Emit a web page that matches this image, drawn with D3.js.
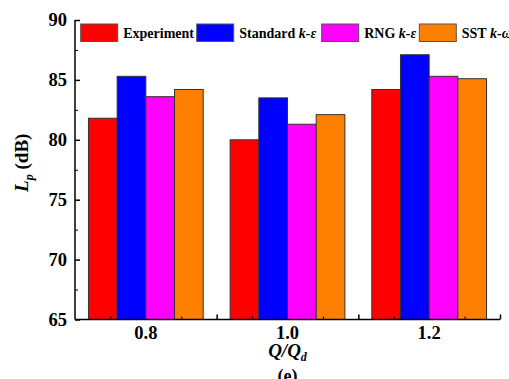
<!DOCTYPE html>
<html lang="en">
<head>
<meta charset="utf-8">
<title>Lp bar chart</title>
<script src="https://cdn.jsdelivr.net/npm/d3@7"></script>
<style>
  body { margin: 0; background: #fff; }
  svg text { font-family: "Liberation Serif", "Times New Roman", serif; font-weight: bold; }
</style>
</head>
<body>
<script>
// data
var categories = ["0.8", "1.0", "1.2"];
var seriesNames = ["Experiment", "Standard", "RNG", "SST"];
var experiment = [81.8, 80.0, 84.2];
var standardKE = [85.3, 83.5, 87.1];
var rngKE = [83.6, 81.3, 85.3];
var sstKW = [84.2, 82.1, 85.1];
var yTicks = [65, 70, 75, 80, 85, 90];

var colors = ["#ff0000", "#0000ff", "#ff00ff", "#ff8000"];
var allSeries = [experiment, standardKE, rngKE, sstKW];

var W = 509, H = 379;
var mLeft = 75, mRight = 500, mTop = 20, mBottom = 319.5;

var svg = d3.select("body").append("svg")
    .attr("width", W)
    .attr("height", H);

var x0 = d3.scaleBand()
    .domain(categories)
    .range([mLeft, mRight])
    .paddingInner(0.19)
    .paddingOuter(0.095);

var x1 = d3.scaleBand()
    .domain(seriesNames)
    .range([0, x0.bandwidth()]);

var y = d3.scaleLinear()
    .domain([65, 90])
    .range([mBottom, mTop]);

// bars
var groups = svg.selectAll("g.grp")
    .data(categories)
    .enter().append("g")
    .attr("class", "grp")
    .attr("transform", function(d) { return "translate(" + x0(d) + ",0)"; });

groups.selectAll("rect")
    .data(function(d, i) {
        return seriesNames.map(function(s, j) { return { s: s, v: allSeries[j][i], c: colors[j] }; });
    })
    .enter().append("rect")
    .attr("x", function(d) { return x1(d.s); })
    .attr("y", function(d) { return y(d.v); })
    .attr("width", x1.bandwidth())
    .attr("height", function(d) { return mBottom - y(d.v); })
    .attr("fill", function(d) { return d.c; })
    .attr("stroke", "#333")
    .attr("stroke-width", 1);

// y axis: major + minor inward ticks
var yAxis = svg.append("g")
    .attr("transform", "translate(" + mLeft + ",0)")
    .call(d3.axisLeft(y).tickValues(yTicks).tickSize(-5).tickPadding(8).tickFormat(d3.format("d")));
svg.append("g")
    .attr("transform", "translate(" + mLeft + ",0)")
    .call(d3.axisLeft(y).tickValues([67.5, 72.5, 77.5, 82.5, 87.5]).tickSize(-3).tickFormat(""))
    .select(".domain").remove();
yAxis.select(".domain").attr("d", "M0," + mTop + "V" + mBottom).attr("stroke-width", 1.5);
yAxis.selectAll("text").attr("font-size", "18.5px").attr("fill", "#000");
yAxis.selectAll("line").attr("stroke-width", 1.5);

// x axis: labels from band scale, ticks at quarter-group positions
var xt = d3.scaleLinear().domain([0, 3]).range([mLeft, mRight]);
var xAxis = svg.append("g")
    .attr("transform", "translate(0," + mBottom + ")")
    .call(d3.axisBottom(x0).tickSize(0).tickPadding(6));
xAxis.select(".domain").attr("d", "M" + mLeft + ",0H" + mRight).attr("stroke-width", 1.5);
xAxis.selectAll("text").attr("font-size", "18.5px").attr("fill", "#000");
svg.append("g")
    .attr("transform", "translate(0," + mBottom + ")")
    .call(d3.axisBottom(xt).tickValues([1, 2, 3]).tickSize(-5).tickFormat(""))
    .call(function(g) { g.select(".domain").remove(); g.selectAll("line").attr("stroke-width", 1.5); });
svg.append("g")
    .attr("transform", "translate(0," + mBottom + ")")
    .call(d3.axisBottom(xt).tickValues([0.25, 0.75, 1.25, 1.75, 2.25, 2.75]).tickSize(-3).tickFormat(""))
    .select(".domain").remove();

// axis titles
var yt = svg.append("text")
    .attr("transform", "translate(28," + ((mTop + mBottom) / 2 - 7) + ") rotate(-90)")
    .attr("text-anchor", "middle")
    .attr("font-size", "19px");
yt.append("tspan").attr("font-style", "italic").text("L");
yt.append("tspan").attr("font-style", "italic").attr("font-size", "12px").attr("dy", 5).text("p");
yt.append("tspan").attr("dy", -5).text(" (dB)");

var xtl = svg.append("text")
    .attr("x", (mLeft + mRight) / 2)
    .attr("y", 357)
    .attr("text-anchor", "middle")
    .attr("font-size", "19px");
xtl.append("tspan").attr("font-style", "italic").text("Q/Q");
xtl.append("tspan").attr("font-style", "italic").attr("font-size", "12px").attr("dy", 4).text("d");

svg.append("text")
    .attr("x", (mLeft + mRight) / 2)
    .attr("y", 382)
    .attr("text-anchor", "middle")
    .attr("font-size", "18px")
    .text("(e)");

// legend
var legendX = [80.7, 196.7, 321.7, 419.3];
var legendLabels = [["Experiment", ""], ["Standard ", "k-\u03b5"], ["RNG ", "k-\u03b5"], ["SST ", "k-\u03c9"]];
var leg = svg.selectAll("g.leg")
    .data(seriesNames)
    .enter().append("g")
    .attr("class", "leg")
    .attr("transform", function(d, i) { return "translate(" + legendX[i] + ",24)"; });
leg.append("rect")
    .attr("width", 37)
    .attr("height", 17.5)
    .attr("fill", function(d, i) { return colors[i]; })
    .attr("stroke", "#555")
    .attr("stroke-width", 1);
var lt = leg.append("text")
    .attr("x", 42.5)
    .attr("y", 14)
    .attr("font-size", "14px");
lt.append("tspan").text(function(d, i) { return legendLabels[i][0]; });
lt.append("tspan").attr("font-style", "italic").text(function(d, i) { return legendLabels[i][1]; });
</script>
</body>
</html>
